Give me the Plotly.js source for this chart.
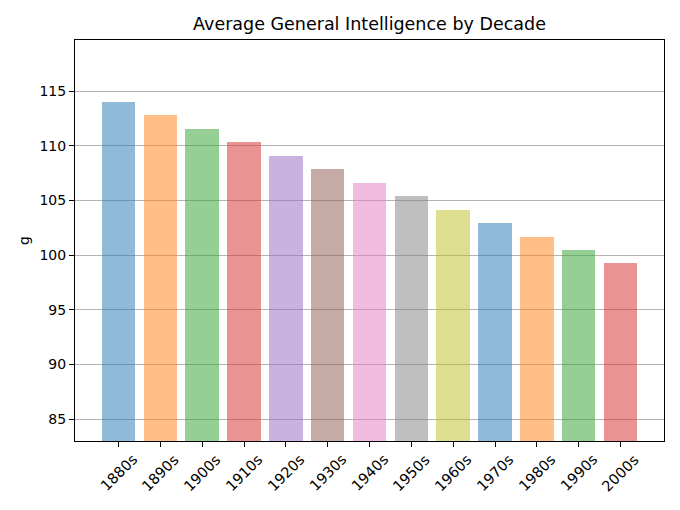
<!DOCTYPE html>
<html>
<head>
<meta charset="utf-8">
<script src="https://cdn.plot.ly/plotly-3.0.1.min.js"></script>
<style>
  html, body { margin: 0; padding: 0; background: white; }
  #chart { width: 680px; height: 510px; }
</style>
</head>
<body>
<div id="chart"></div>
<script>
// Decades and average g value for each
const decades = ['1880s', '1890s', '1900s', '1910s', '1920s', '1930s', '1940s',
                 '1950s', '1960s', '1970s', '1980s', '1990s', '2000s'];
const gValues = [114.0, 112.77, 111.54, 110.31, 109.08, 107.85, 106.62,
                 105.39, 104.16, 102.93, 101.7, 100.47, 99.24];

// matplotlib tab10 at alpha 0.5
const palette = [
  'rgba(31,119,180,0.5)', 'rgba(255,127,14,0.5)', 'rgba(44,160,44,0.5)',
  'rgba(214,39,40,0.5)', 'rgba(148,103,189,0.5)', 'rgba(140,86,75,0.5)',
  'rgba(227,119,194,0.5)', 'rgba(127,127,127,0.5)', 'rgba(188,189,34,0.5)',
  'rgba(23,190,207,0.5)'
];
// the reference cycles back to blue after olive (skips cyan)
const barColors = decades.map((d, i) => palette[i % 9]);
const positions = decades.map((d, i) => i);

const trace = {
  type: 'bar',
  x: positions,
  y: gValues.map(v => v - 83),
  base: 83,
  width: 0.8,
  marker: { color: barColors, line: { width: 0 } },
  hoverinfo: 'skip'
};

// rotated labels centred under each tick, like matplotlib's rotation=45
const tickLabels = decades.map((d, i) => ({
  text: d,
  x: positions[i], xref: 'x',
  y: 0, yref: 'paper',
  xanchor: 'center', yanchor: 'top',
  yshift: -8,
  textangle: -45,
  showarrow: false,
  font: { size: 14.5 }
}));

const layout = {
  width: 680,
  height: 510,
  margin: { l: 75, r: 16, t: 40, b: 69 },
  paper_bgcolor: 'white',
  plot_bgcolor: 'white',
  font: { family: 'DejaVu Sans, sans-serif', size: 14, color: '#000' },
  title: {
    text: 'Average General Intelligence by Decade',
    font: { size: 17.5 },
    xref: 'paper', x: 0.5, xanchor: 'center', y: 0.953, yanchor: 'middle'
  },
  showlegend: false,
  bargap: 0,
  annotations: tickLabels,
  xaxis: {
    range: [-1.04, 13.04],
    tickmode: 'array',
    tickvals: positions,
    showticklabels: false,
    ticks: 'outside', ticklen: 5, tickcolor: '#000',
    showgrid: false, zeroline: false,
    showline: true, linecolor: '#000', linewidth: 1, mirror: true
  },
  yaxis: {
    title: { text: 'g', font: { size: 14 }, standoff: 6 },
    range: [83, 119.67],
    tickvals: [85, 90, 95, 100, 105, 110, 115],
    tickfont: { size: 14 },
    ticks: 'outside', ticklen: 5, tickcolor: '#000',
    showgrid: true, gridcolor: '#b4b4b4', gridwidth: 1,
    zeroline: false,
    showline: true, linecolor: '#000', linewidth: 1, mirror: true,
    layer: 'below traces'
  }
};

Plotly.newPlot('chart', [trace], layout, { displayModeBar: false, staticPlot: true });
</script>
</body>
</html>
